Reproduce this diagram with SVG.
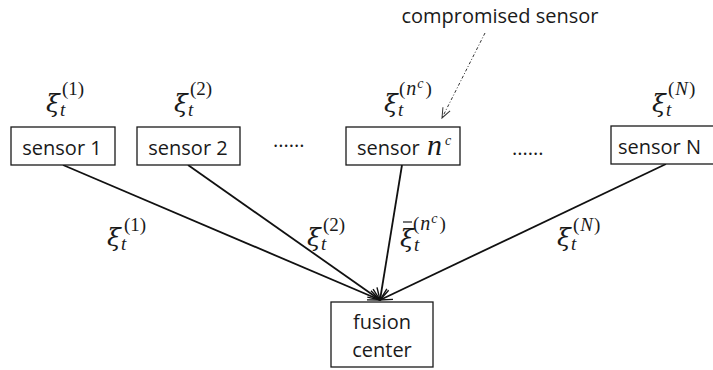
<svg xmlns="http://www.w3.org/2000/svg" width="713" height="370" viewBox="0 0 713 370">
<defs>
<style>
.box{fill:#fff;stroke:#1a1a1a;stroke-width:1.3}
.lbl{font-family:"Open Sans","Noto Sans",sans-serif;font-size:20px;fill:#1a1a1a}
.m{font-family:"Liberation Serif","DejaVu Serif",serif;fill:#1a1a1a}
.g{font-family:"DejaVu Serif","Liberation Serif",serif;font-size:25px;font-style:italic}
.s{font-size:19px}
.ss{font-size:14px;font-style:italic}
.i{font-style:italic}
.edge{stroke:#111;stroke-width:1.8;fill:none}
</style>
<marker id="arr" viewBox="0 0 14 12" refX="13" refY="6" markerWidth="14" markerHeight="12" orient="auto" markerUnits="userSpaceOnUse">
<path d="M1,1 L13,6 L1,11" fill="none" stroke="#111" stroke-width="1.4"/>
</marker>
<marker id="arrd" viewBox="0 0 12 10" refX="11" refY="5" markerWidth="12" markerHeight="10" orient="auto" markerUnits="userSpaceOnUse">
<path d="M1,1 L11,5 L1,9" fill="none" stroke="#333" stroke-width="1"/>
</marker>
</defs>
<rect width="713" height="370" fill="#fff"/>

<g id="connectors">
<line class="edge" x1="63" y1="165" x2="380" y2="300" marker-end="url(#arr)"/>
<line class="edge" x1="188" y1="165" x2="380" y2="300" marker-end="url(#arr)"/>
<line class="edge" x1="402" y1="165" x2="380" y2="300" marker-end="url(#arr)"/>
<line class="edge" x1="666" y1="164" x2="380" y2="300" marker-end="url(#arr)"/>
<line x1="485" y1="33" x2="442" y2="118" stroke="#333" stroke-width="1" stroke-dasharray="3,2,1,2" marker-end="url(#arrd)"/>
</g>

<g id="sensor1">
<rect class="box" x="11" y="127" width="104" height="38"/>
<text class="lbl" x="62" y="155" text-anchor="middle">sensor 1</text>
<text class="m g" x="46" y="112">ξ</text>
<text class="m s i" x="60" y="116">t</text>
<text class="m s" x="62" y="95">(1)</text>
</g>

<g id="sensor2">
<rect class="box" x="137" y="127" width="103" height="38"/>
<text class="lbl" x="188" y="155" text-anchor="middle">sensor 2</text>
<text class="m g" x="174" y="112">ξ</text>
<text class="m s i" x="188" y="116">t</text>
<text class="m s" x="190" y="95">(2)</text>
</g>

<text class="lbl" x="273" y="147">......</text>

<g id="sensorNc">
<rect class="box" x="346" y="127" width="114" height="38"/>
<text class="lbl" x="357" y="155">sensor</text>
<text class="m" x="427" y="155" font-size="30" font-style="italic">n</text>
<text class="m ss" x="445" y="145">c</text>
<text class="m g" x="384" y="112">ξ</text>
<text class="m s i" x="398" y="116">t</text>
<text class="m s" x="399" y="95">(<tspan class="i" dx="1" font-size="20">n</tspan><tspan class="ss" dy="-7" dx="1">c</tspan><tspan dy="7" dx="2">)</tspan></text>
</g>

<text class="lbl" x="512" y="155">......</text>

<g id="sensorN">
<rect class="box" x="611" y="126" width="104" height="38"/>
<text class="lbl" x="618" y="154">sensor N</text>
<text class="m g" x="652" y="112">ξ</text>
<text class="m s i" x="666" y="116">t</text>
<text class="m s" x="668" y="95">(<tspan class="i" dx="1">N</tspan><tspan dx="1">)</tspan></text>
</g>

<g id="compromised">
<text class="lbl" x="500" y="23" text-anchor="middle">compromised sensor</text>
</g>

<g id="fusion">
<rect class="box" x="331" y="302" width="102" height="65"/>
<text class="lbl" x="382" y="329" text-anchor="middle">fusion</text>
<text class="lbl" x="382" y="357" text-anchor="middle">center</text>
</g>

<g id="edge-labels">
<text class="m g" x="107" y="246">ξ</text>
<text class="m s i" x="121" y="250">t</text>
<text class="m s" x="124" y="231">(1)</text>

<text class="m g" x="307" y="246">ξ</text>
<text class="m s i" x="321" y="250">t</text>
<text class="m s" x="323" y="231">(2)</text>

<text class="m g" x="400" y="247">ξ</text>
<line x1="403" y1="222" x2="412" y2="222" stroke="#1a1a1a" stroke-width="1.2"/>
<text class="m s i" x="414" y="251">t</text>
<text class="m s" x="413" y="230">(<tspan class="i" dx="1" font-size="20">n</tspan><tspan class="ss" dy="-7" dx="1">c</tspan><tspan dy="7" dx="2">)</tspan></text>

<text class="m g" x="557" y="246">ξ</text>
<text class="m s i" x="571" y="250">t</text>
<text class="m s" x="573" y="231">(<tspan class="i" dx="1">N</tspan><tspan dx="1">)</tspan></text>
</g>
</svg>
